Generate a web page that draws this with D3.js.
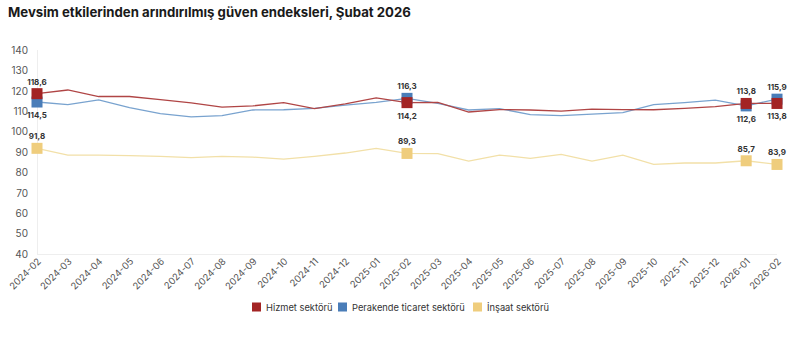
<!DOCTYPE html>
<html><head><meta charset="utf-8">
<script src="https://cdn.jsdelivr.net/npm/d3@7"></script>
<style>
html,body{margin:0;padding:0;background:#fff;}
svg{display:block;font-family:Inter,"Noto Sans",sans-serif;}
</style></head>
<body><svg id="c" width="800" height="347"></svg>
<script>
const months = ["2024-02","2024-03","2024-04","2024-05","2024-06","2024-07","2024-08","2024-09","2024-10","2024-11","2024-12","2025-01","2025-02","2025-03","2025-04","2025-05","2025-06","2025-07","2025-08","2025-09","2025-10","2025-11","2025-12","2026-01","2026-02"];
const hizmet = [118.6,120.4,117.2,117.2,115.7,114.1,112.0,112.6,114.2,111.3,113.6,116.5,114.2,114.3,109.6,110.8,110.6,110.0,111.0,110.8,110.7,111.4,112.2,113.8,113.8];
const perakende = [114.5,113.2,115.5,111.8,108.8,107.2,107.8,110.6,110.7,111.4,113.0,114.3,116.3,113.8,110.6,111.3,108.3,107.8,108.6,109.3,113.2,114.2,115.4,112.6,115.9];
const insaat = [91.8,88.5,88.5,88.2,87.9,87.2,87.9,87.5,86.5,87.9,89.5,91.8,89.3,89.2,85.5,88.5,86.9,88.8,85.5,88.5,83.9,84.6,84.6,85.7,83.9];
const yTicks = [40,50,60,70,80,90,100,110,120,130,140];
const seriesNames = ["Hizmet sektörü","Perakende ticaret sektörü","İnşaat sektörü"];
const markerIdx = [0,12,23,24];

const series = [
  {name:seriesNames[0], values:hizmet, line:"#b04545", fill:"#a32424"},
  {name:seriesNames[1], values:perakende, line:"#79a3cf", fill:"#4a7db8"},
  {name:seriesNames[2], values:insaat, line:"#f2e0a8", fill:"#efcd7d"}
];
// label placement: above(-1) or below(+1) per marker index
const labelPos = {
  0:{0:-1,12:1,23:-1,24:1},
  1:{0:1,12:-1,23:1,24:-1},
  2:{0:-1,12:-1,23:-1,24:-1}
};

const svg = d3.select("#c");
const m = {l:37,r:23,t:50,b:93};
const W=800,H=347;
const x = d3.scalePoint().domain(months).range([m.l, W-m.r]);
const y = d3.scaleLinear().domain([40,140]).range([H-m.b, m.t]);

svg.append("text").attr("x",8).attr("y",17).attr("font-size",13.2).attr("font-weight",700).attr("fill","#1a1a1a")
  .text("Mevsim etkilerinden arındırılmış güven endeksleri, Şubat 2026");

// y axis labels
const ya = svg.append("g").attr("transform",`translate(${m.l-9},0)`)
  .call(d3.axisLeft(y).tickValues(yTicks).tickSize(0).tickPadding(0));
ya.select(".domain").remove();
ya.selectAll("text").attr("font-size",10).attr("fill","#555").attr("font-family","Inter,sans-serif");

// baseline and left line
svg.append("line").attr("x1",m.l).attr("x2",W-m.r).attr("y1",y(40)+0.5).attr("y2",y(40)+0.5).attr("stroke","#eeeeee");
svg.append("line").attr("x1",m.l+0.5).attr("x2",m.l+0.5).attr("y1",y(140)).attr("y2",y(40)).attr("stroke","#eeeeee");

// x axis
const xa = svg.append("g").attr("transform",`translate(0,${y(40)+4})`)
  .call(d3.axisBottom(x).tickSize(0).tickPadding(0));
xa.select(".domain").remove();
xa.selectAll("text").attr("font-size",9.5).attr("fill","#555").attr("font-family","Inter,sans-serif")
  .attr("text-anchor","end").attr("dx","0").attr("dy","0.6em")
  .attr("transform","rotate(-45)");

const line = d3.line().x((d,i)=>x(months[i])).y(d=>y(d));
// draw yellow first, then blue, then red
[2,1,0].forEach(si=>{
  const s=series[si];
  svg.append("path").attr("d",line(s.values)).attr("fill","none").attr("stroke",s.line).attr("stroke-width",1.3);
});
const ms=11;
[2,1,0].forEach(si=>{
  const s=series[si];
  markerIdx.forEach(i=>{
    svg.append("rect").attr("x",x(months[i])-ms/2).attr("y",y(s.values[i])-ms/2)
      .attr("width",ms).attr("height",ms).attr("fill",s.fill);
  });
});
[0,1,2].forEach(si=>{
  const s=series[si];
  markerIdx.forEach(i=>{
    const p=labelPos[si][i];
    svg.append("text").attr("x",x(months[i])).attr("y",y(s.values[i])+(p<0?-9:16))
      .attr("text-anchor","middle").attr("font-size",8).attr("font-weight",700).attr("fill","#333")
      .text(d3.format(".1f")(s.values[i]).replace(".",","));
  });
});

// legend
const lg = svg.append("g").attr("transform","translate(0,307)");
const lx=[252,338,473];
series.forEach((s,i)=>{
  lg.append("rect").attr("x",lx[i]).attr("y",-4.5).attr("width",9).attr("height",9).attr("fill",s.fill);
  lg.append("text").attr("x",lx[i]+14).attr("y",3.5).attr("font-size",9.3).attr("fill","#333").text(s.name);
});
</script></body></html>
